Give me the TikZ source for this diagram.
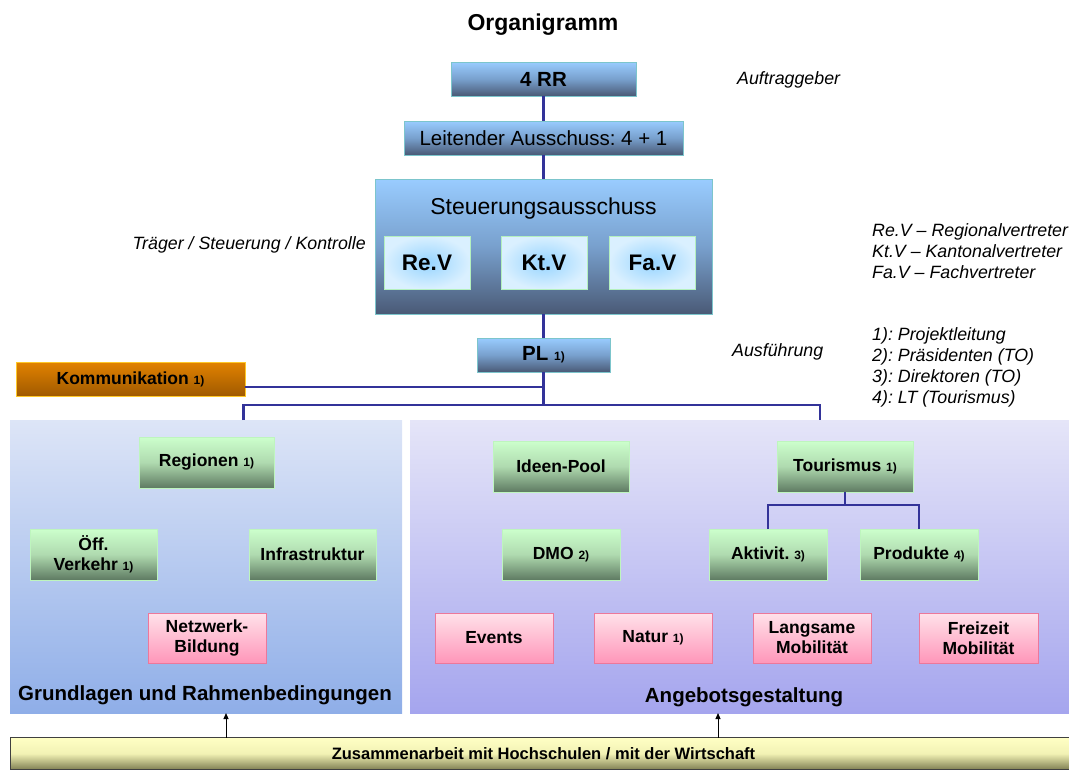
\documentclass[tikz,border=0pt]{standalone}
\usepackage{fontspec}
\setmainfont{Liberation Sans}
\usetikzlibrary{arrows.meta}
\definecolor{blutop}{RGB}{153,204,255}
\definecolor{blumid}{RGB}{120,160,205}
\definecolor{blubot}{RGB}{74,90,118}
\definecolor{blubd}{RGB}{124,197,204}
\definecolor{gtop}{RGB}{204,255,204}
\definecolor{gmid}{RGB}{175,218,175}
\definecolor{gbot}{RGB}{94,122,98}
\definecolor{gbd}{RGB}{190,245,190}
\definecolor{ptop}{RGB}{255,226,234}
\definecolor{pbot}{RGB}{255,150,185}
\definecolor{pbd}{RGB}{236,120,155}
\definecolor{otop}{RGB}{226,130,0}
\definecolor{obot}{RGB}{160,90,0}
\definecolor{obd}{RGB}{255,200,40}
\definecolor{lptop}{RGB}{221,229,247}
\definecolor{lpbot}{RGB}{143,174,232}
\definecolor{rptop}{RGB}{229,229,248}
\definecolor{rpbot}{RGB}{165,165,238}
\definecolor{ytop}{RGB}{255,255,196}
\definecolor{ymid}{RGB}{242,242,180}
\definecolor{ybot}{RGB}{128,128,84}
\definecolor{conn}{RGB}{51,51,153}
\definecolor{rin}{RGB}{150,212,255}
\definecolor{rout}{RGB}{218,240,255}
\definecolor{rbd}{RGB}{180,240,190}
\newcommand{\fnm}[1]{{\fontsize{12}{12}\selectfont\bfseries #1}}
\frenchspacing
\begin{document}
\begin{tikzpicture}[x=1pt,y=-1pt,
  box/.style={inner sep=0pt, outer sep=0pt, line width=1pt, align=center,
    font=\fontsize{17.5}{20}\selectfont\bfseries},
  blu/.style={box, draw=blubd, top color=blutop, bottom color=blubot, middle color=blumid},
  grn/.style={box, draw=gbd, top color=gtop, bottom color=gbot, middle color=gmid, minimum height=51},
  pnk/.style={box, draw=pbd, top color=ptop, bottom color=pbot, minimum height=50, minimum width=118},
  rep/.style={box, draw=rbd, inner color=rin, outer color=rout, minimum width=86, minimum height=53,
    font=\fontsize{22.5}{24}\selectfont\bfseries},
  panel/.style={inner sep=0pt, outer sep=0pt, minimum height=293},
  head/.style={inner sep=0pt, font=\fontsize{20.5}{22}\selectfont\bfseries},
  ann/.style={inner sep=0pt, align=left, font=\fontsize{17.8}{21}\selectfont\itshape},
  conline/.style={draw=conn, line width=2.2pt},
  arr/.style={draw=black, line width=1pt, -{Triangle[length=6pt,width=5pt]}}
]
\useasboundingbox (0,0) rectangle (1069,769);

% panels
\node[panel, top color=lptop, bottom color=lpbot, minimum width=392] (lp) at (206,566.5) {};
\node[panel, top color=rptop, bottom color=rpbot, minimum width=659] (rp) at (739.5,566.5) {};

% title
\node[inner sep=0pt, font=\fontsize{23}{25}\selectfont\bfseries] (title) at (543,25) {Organigramm};

% top chain
\node[blu, minimum width=185, minimum height=34, font=\fontsize{20.5}{22}\selectfont\bfseries] (rr) at (543.5,79) {4 RR};
\node[blu, minimum width=279, minimum height=34, font=\fontsize{20.5}{22}\selectfont] (la) at (543.5,138) {Leitender Ausschuss: 4 + 1};
\node[blu, minimum width=337, minimum height=135] (sa) at (543.5,246.5) {};
\node[inner sep=0pt, font=\fontsize{23}{25}\selectfont] (sat) at (543.5,209) {Steuerungsausschuss};
\node[rep] (rev) at (427,262.5) {Re.V};
\node[rep] (ktv) at (544,262.5) {Kt.V};
\node[rep] (fav) at (652.5,262.5) {Fa.V};
\node[blu, minimum width=133, minimum height=34, font=\fontsize{20.5}{22}\selectfont\bfseries] (pl) at (543.5,355) {PL \fnm{1)}};
\node[box, draw=obd, top color=otop, bottom color=obot, minimum width=229, minimum height=34] (kom) at (130.5,379) {Kommunikation \fnm{1)}};

% annotations
\node[ann, anchor=west] (auf) at (737,80) {Auftraggeber};
\node[ann, anchor=east] (trg) at (366,245) {Träger / Steuerung / Kontrolle};
\node[ann, anchor=west] (ausf) at (732,352) {Ausführung};
\node[ann, anchor=west] (leg1) at (872,251) {Re.V – Regionalvertreter\\Kt.V – Kantonalvertreter\\Fa.V – Fachvertreter};
\node[ann, anchor=west] (leg2) at (872,367.5) {1): Projektleitung\\2): Präsidenten (TO)\\3): Direktoren (TO)\\4): LT (Tourismus)};

% left panel
\node[grn, minimum width=135] (reg) at (206.5,462.5) {Regionen \fnm{1)}};
\node[grn, minimum width=127] (oev) at (93.5,554.5) {Öff.\\Verkehr \fnm{1)}};
\node[grn, minimum width=127] (inf) at (312.5,554.5) {Infrastruktur};
\node[pnk] (netz) at (207,638) {Netzwerk-\\Bildung};
\node[head] (lpt) at (205,695) {Grundlagen und Rahmenbedingungen};

% right panel
\node[grn, minimum width=136] (ideen) at (561,466.5) {Ideen-Pool};
\node[grn, minimum width=136] (tour) at (845,466.5) {Tourismus \fnm{1)}};
\node[grn, minimum width=118] (dmo) at (561,554.5) {DMO \fnm{2)}};
\node[grn, minimum width=118] (akt) at (768,554.5) {Aktivit. \fnm{3)}};
\node[grn, minimum width=118] (prod) at (919,554.5) {Produkte \fnm{4)}};
\node[pnk] (events) at (494,638) {Events};
\node[pnk] (natur) at (653,638) {Natur \fnm{1)}};
\node[pnk] (lang) at (812,638) {Langsame\\Mobilität};
\node[pnk, minimum width=119] (frei) at (978.5,638) {Freizeit\\Mobilität};
\node[head] (rpt) at (744,697) {Angebotsgestaltung};

% bottom bar
\node[box, draw=black!75, line width=1pt, top color=ytop, bottom color=ybot, middle color=ymid, minimum width=1060, minimum height=32,
  font=\fontsize{16.5}{18}\selectfont\bfseries] (zus) at (540,753.5) {\hspace*{7pt}Zusammenarbeit mit Hochschulen / mit der Wirtschaft};

% connectors
\draw[conline] (rr.south) -- (la.north);
\draw[conline] (la.south) -- (sa.north);
\draw[conline] (sa.south) -- (pl.north);
\coordinate (bus) at (543.5,405);
\coordinate (bl) at (243.5,405);
\coordinate (br) at (820,405);
\draw[conline] (pl.south) -- (bus);
\draw[conline] ([yshift=-8pt]kom.east) -- ([yshift=-8pt]kom.east -| pl.south);
\draw[conline] (lp.north -| bl) -- (bl) -- (br) -- (rp.north -| br);
\coordinate (tj) at (845,505);
\draw[conline] (tour.south) -- (tj);
\draw[conline] (akt.north) -- (akt.north |- tj) -- (prod.north |- tj) -- (prod.north);

% arrows
\coordinate (a1) at (226,0);
\coordinate (a2) at (718,0);
\draw[arr] (zus.north -| a1) -- (lp.south -| a1);
\draw[arr] (zus.north -| a2) -- (rp.south -| a2);
\end{tikzpicture}
\end{document}
